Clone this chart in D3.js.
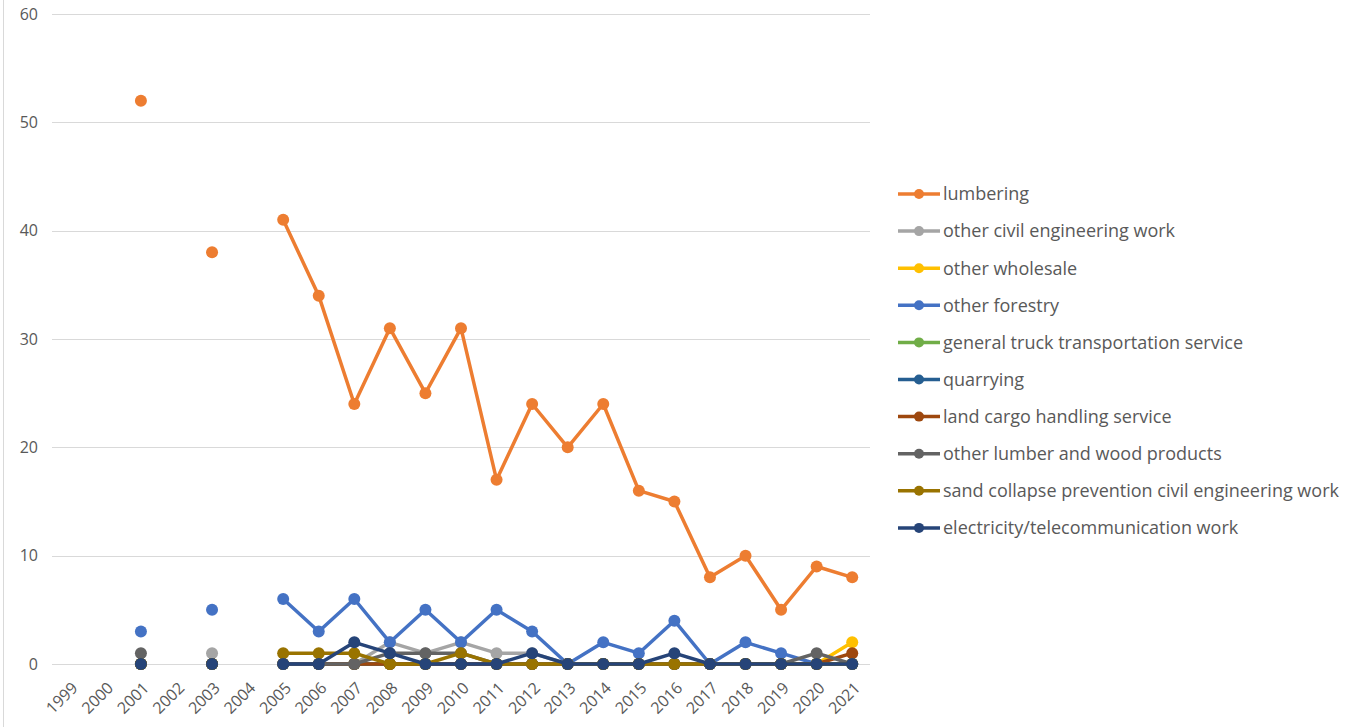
<!DOCTYPE html>
<html>
<head>
<meta charset="utf-8">
<script src="https://cdn.jsdelivr.net/npm/d3@7"></script>
<style>
  body { margin: 0; background: #fff; }
  svg { font-family: "Open Sans", "Noto Sans", sans-serif; }
</style>
</head>
<body>
<script>
// years on the category axis
var years = ["1999","2000","2001","2002","2003","2004","2005","2006","2007","2008","2009","2010",
  "2011","2012","2013","2014","2015","2016","2017","2018","2019","2020","2021"];
var yTicks = [0, 10, 20, 30, 40, 50, 60];

var seriesNames = [
  "lumbering",
  "other civil engineering work",
  "other wholesale",
  "other forestry",
  "general truck transportation service",
  "quarrying",
  "land cargo handling service",
  "other lumber and wood products",
  "sand collapse prevention civil engineering work",
  "electricity/telecommunication work"
];
var seriesColors = ["#ED7D31", "#A5A5A5", "#FFC000", "#4472C4", "#70AD47", "#255E91",
  "#9E480E", "#636363", "#997300", "#264478"];

var n = null;
// values per year, null = no data
var lumbering      = [n, n, 52, n, 38, n, 41, 34, 24, 31, 25, 31, 17, 24, 20, 24, 16, 15, 8, 10, 5, 9, 8];
var otherCivil     = [n, n, 0, n, 1, n, 0, 0, 0, 2, 1, 2, 1, 1, 0, 0, 0, 0, 0, 0, 0, 0, 0];
var otherWholesale = [n, n, 0, n, 0, n, 0, 0, 0, 0, 0, 0, 0, 0, 0, 0, 0, 0, 0, 0, 0, 0, 2];
var otherForestry  = [n, n, 3, n, 5, n, 6, 3, 6, 2, 5, 2, 5, 3, 0, 2, 1, 4, 0, 2, 1, 0, 0];
var truck          = [n, n, 0, n, 0, n, 0, 0, 0, 0, 0, 0, 0, 0, 0, 0, 0, 0, 0, 0, 0, 0, 0];
var quarrying      = [n, n, 0, n, 0, n, 0, 0, 0, 0, 0, 0, 0, 0, 0, 0, 0, 0, 0, 0, 0, 0, 0];
var landCargo      = [n, n, 0, n, 0, n, 0, 0, 0, 0, 0, 0, 0, 0, 0, 0, 0, 0, 0, 0, 0, 0, 1];
var otherLumber    = [n, n, 1, n, 0, n, 0, 0, 0, 1, 1, 1, 0, 0, 0, 0, 0, 0, 0, 0, 0, 1, 0];
var sandCollapse   = [n, n, 0, n, 0, n, 1, 1, 1, 0, 0, 1, 0, 0, 0, 0, 0, 0, 0, 0, 0, 0, 0];
var electricity    = [n, n, 0, n, 0, n, 0, 0, 2, 1, 0, 0, 0, 1, 0, 0, 0, 1, 0, 0, 0, 0, 0];

var allValues = [lumbering, otherCivil, otherWholesale, otherForestry, truck, quarrying,
  landCargo, otherLumber, sandCollapse, electricity];

var w = 1348, h = 727;
var svg = d3.select("body").append("svg").attr("width", w).attr("height", h);

var xScale = d3.scaleBand().domain(years).range([52, 870]);
var yScale = d3.scaleLinear().domain([0, 60]).range([664, 14]);

// left border line
svg.append("line").attr("x1", 3.5).attr("x2", 3.5).attr("y1", 0).attr("y2", h)
  .attr("stroke", "#D9D9D9").attr("stroke-width", 1);

// gridlines
svg.append("g").selectAll("line").data(yTicks).enter().append("line")
  .attr("x1", 52).attr("x2", 870)
  .attr("y1", function (d) { return Math.round(yScale(d)) + 0.5; })
  .attr("y2", function (d) { return Math.round(yScale(d)) + 0.5; })
  .attr("stroke", "#D9D9D9").attr("stroke-width", 1);

// y axis labels
var yAxis = d3.axisLeft(yScale).tickValues(yTicks).tickSize(0).tickPadding(0);
var gy = svg.append("g").attr("transform", "translate(38,0)").call(yAxis);
gy.select(".domain").remove();
gy.selectAll("text").attr("fill", "#595959").style("font-size", "16px")
  .style("font-family", "\"Open Sans\", sans-serif");

// x axis labels
var xAxis = d3.axisBottom(xScale).tickSize(0);
var gx = svg.append("g").attr("transform", "translate(0,664)").call(xAxis);
gx.select(".domain").remove();
gx.selectAll("text")
  .attr("fill", "#595959").style("font-size", "16px")
  .style("font-family", "\"Open Sans\", sans-serif")
  .attr("text-anchor", "end")
  .attr("y", 0).attr("dy", "0.35em")
  .attr("transform", "translate(5,21) rotate(-45)");

var line = d3.line()
  .defined(function (d) { return d != null; })
  .x(function (d, i) { return xScale(years[i]) + xScale.bandwidth() / 2; })
  .y(function (d) { return yScale(d); });

allValues.forEach(function (vals, s) {
  var g = svg.append("g");
  g.append("path").datum(vals).attr("d", line)
    .attr("fill", "none").attr("stroke", seriesColors[s]).attr("stroke-width", 3.5)
    .attr("stroke-linejoin", "round");
  g.selectAll("circle")
    .data(vals.map(function (v, i) { return { v: v, i: i }; }).filter(function (d) { return d.v != null; }))
    .enter().append("circle")
    .attr("cx", function (d) { return xScale(years[d.i]) + xScale.bandwidth() / 2; })
    .attr("cy", function (d) { return yScale(d.v); })
    .attr("r", 6)
    .attr("fill", seriesColors[s]);
});

// legend
var legend = svg.append("g").selectAll("g").data(seriesNames).enter().append("g")
  .attr("transform", function (d, i) { return "translate(898," + (194 + i * 37.1) + ")"; });
legend.append("line").attr("x1", 0).attr("x2", 42).attr("y1", 0).attr("y2", 0)
  .attr("stroke", function (d, i) { return seriesColors[i]; }).attr("stroke-width", 3.5);
legend.append("circle").attr("cx", 21).attr("cy", 0).attr("r", 5)
  .attr("fill", function (d, i) { return seriesColors[i]; });
legend.append("text").attr("x", 45).attr("y", 0).attr("dy", "0.35em")
  .attr("fill", "#595959").style("font-size", "18px")
  .text(function (d) { return d; });
</script>
</body>
</html>
